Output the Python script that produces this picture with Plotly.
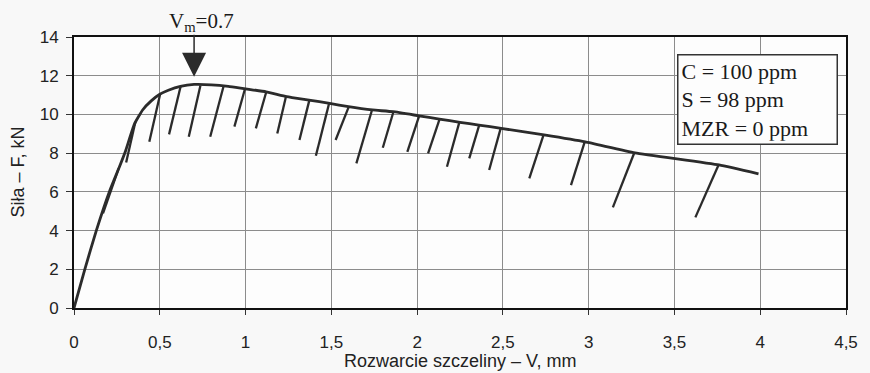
import plotly.graph_objects as go

# Load–crack opening curve (envelope)
curve_v = [0, 0.063, 0.13, 0.21, 0.265, 0.30, 0.352, 0.40, 0.45, 0.50, 0.55, 0.62,
           0.70, 0.80, 0.90, 1.0, 1.12, 1.24, 1.37, 1.49, 1.60, 1.74, 1.86, 2.01,
           2.13, 2.25, 2.36, 2.49, 2.74, 2.98, 3.27, 3.76, 3.99]
curve_f = [0, 2.0, 4.0, 6.1, 7.3, 8.1, 9.5, 10.23, 10.7, 11.04, 11.25, 11.45,
           11.55, 11.53, 11.45, 11.32, 11.17, 10.92, 10.74, 10.57, 10.4, 10.23, 10.14, 9.93,
           9.76, 9.59, 9.45, 9.28, 8.94, 8.58, 8.02, 7.39, 6.93]

# Unloading branches: upper end on the envelope, lower end
unload_top_v = [0.26, 0.358, 0.502, 0.621, 0.737, 0.871, 0.996, 1.121, 1.235, 1.372,
                1.487, 1.602, 1.737, 1.862, 2.012, 2.131, 2.246, 2.362, 2.487, 2.737,
                2.977, 3.266, 3.757]
unload_top_f = [7.2, 9.62, 11.04, 11.43, 11.5, 11.43, 11.3, 11.17, 10.9, 10.74,
                10.57, 10.4, 10.23, 10.14, 9.93, 9.76, 9.59, 9.45, 9.28, 8.94,
                8.58, 8.02, 7.39]
unload_bot_v = [0.169, 0.304, 0.439, 0.554, 0.669, 0.794, 0.935, 1.06, 1.185, 1.314,
                1.41, 1.525, 1.646, 1.80, 1.943, 2.064, 2.174, 2.304, 2.42, 2.654,
                2.897, 3.141, 3.622]
unload_bot_f = [4.89, 7.52, 8.59, 8.97, 8.85, 8.85, 9.37, 9.28, 9.02, 8.68,
                7.87, 8.68, 7.47, 8.28, 8.07, 7.99, 7.3, 7.73, 7.13, 6.7,
                6.35, 5.2, 4.68]

VM = 0.7
x_ticks = [0, 0.5, 1, 1.5, 2, 2.5, 3, 3.5, 4, 4.5]
x_ticktext = ["0", "0,5", "1", "1,5", "2", "2,5", "3", "3,5", "4", "4,5"]
y_ticks = [0, 2, 4, 6, 8, 10, 12, 14]
legend_lines = ["C = 100 ppm", "S = 98 ppm", "MZR = 0 ppm"]

LINE = "#2b2b2b"
SANS = "Liberation Sans, Arial, sans-serif"
SERIF = "Liberation Serif, Times New Roman, serif"

# Build segment list for unloading branches
seg_x, seg_y = [], []
for tv, tf, bv, bf in zip(unload_top_v, unload_top_f, unload_bot_v, unload_bot_f):
    seg_x += [bv, tv, None]
    seg_y += [bf, tf, None]

fig = go.Figure()
fig.add_trace(go.Scatter(x=seg_x, y=seg_y, mode="lines",
                         line=dict(color=LINE, width=2.3), hoverinfo="skip"))
fig.add_trace(go.Scatter(x=curve_v, y=curve_f, mode="lines",
                         line=dict(color=LINE, width=2.8, shape="spline", smoothing=0.4),
                         hoverinfo="skip"))

# Arrow marking V_m (flat-backed filled head)
fig.add_annotation(x=VM, y=11.95, ax=VM, ay=14.2, xref="x", yref="y",
                   axref="x", ayref="y", showarrow=True, arrowhead=2,
                   arrowsize=3.2, arrowwidth=1.5, arrowcolor=LINE, text="")
fig.add_annotation(x=VM, y=14, xref="x", yref="y", xanchor="left", yanchor="bottom",
                   xshift=-27, yshift=0, showarrow=False,
                   text="V<sub>m</sub>=" + str(VM),
                   font=dict(family=SERIF, size=21, color="#1a1a1a"))

# Composition box
fig.add_annotation(x=3.515, y=13.1, xref="x", yref="y", xanchor="left", yanchor="top",
                   showarrow=False, align="left", width=152,
                   text="<br>".join(legend_lines),
                   font=dict(family=SERIF, size=22, color="#1a1a1a"),
                   bordercolor="#333333", borderwidth=1.5, borderpad=3,
                   bgcolor="#fdfdfd")

# Axis titles
fig.add_annotation(x=0.5, y=0, xref="paper", yref="paper", yanchor="middle",
                   yshift=-53, showarrow=False, text="Rozwarcie szczeliny – V, mm",
                   font=dict(family=SANS, size=18, color="#222"))
fig.add_annotation(x=0, y=0.5, xref="paper", yref="paper", xanchor="center",
                   xshift=-57, showarrow=False, text="Siła – F, kN", textangle=-90,
                   font=dict(family=SANS, size=18, color="#222"))

fig.update_xaxes(range=[0, 4.5], tickvals=x_ticks, ticktext=x_ticktext,
                 showgrid=True, gridcolor="#8c8c8c", gridwidth=1,
                 showline=True, linecolor="#111", linewidth=2, mirror=True,
                 ticks="outside", ticklen=5, tickcolor="#333", ticklabelstandoff=13,
                 zeroline=False, tickfont=dict(family=SANS, size=17, color="#222"))
fig.update_yaxes(range=[0, 14], tickvals=y_ticks,
                 showgrid=True, gridcolor="#8c8c8c", gridwidth=1,
                 showline=True, linecolor="#111", linewidth=2, mirror=True,
                 ticks="outside", ticklen=6, tickcolor="#333", ticklabelstandoff=4,
                 zeroline=False, tickfont=dict(family=SANS, size=17, color="#222"))

fig.update_layout(width=870, height=373, showlegend=False,
                  margin=dict(l=74, r=16, t=37, b=65),
                  paper_bgcolor="#f8f8f8", plot_bgcolor="#fdfdfd")

fig.write_html("out.html")
